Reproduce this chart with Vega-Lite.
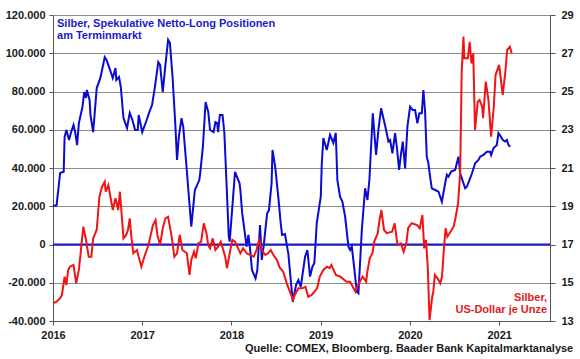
{
  "$schema": "https://vega.github.io/schema/vega-lite/v6.json",
  "width": 497,
  "height": 306,
  "autosize": {"type": "none"},
  "padding": {"left": 53, "top": 15, "right": 30, "bottom": 38},
  "background": "white",
  "config": {
    "locale": {"number": {"decimal": ",", "thousands": ".", "grouping": [3], "currency": ["", " €"], "minus": "-"}},
    "view": {"stroke": null},
    "font": "Liberation Sans",
    "axis": {"labelFont": "Liberation Sans", "labelFontSize": 11, "labelFontWeight": "bold", "labelColor": "#1a1a1a", "domainColor": "#555555", "tickColor": "#555555", "title": null, "labelOverlap": false, "labelFlush": false, "labelBound": false}
  },
  "title": {"text": "Quelle: COMEX, Bloomberg. Baader Bank Kapitalmarktanalyse", "orient": "bottom", "anchor": "end", "frame": "bounds", "font": "Liberation Sans", "fontSize": 11, "fontWeight": "bold", "color": "#1a1a1a", "offset": 3},
  "datasets": {
    "pos": [
      {"t": 2016.00, "v": 20300}, {"t": 2016.04, "v": 20500}, {"t": 2016.08, "v": 37400}, {"t": 2016.12, "v": 38000},
      {"t": 2016.13, "v": 56200}, {"t": 2016.15, "v": 59900}, {"t": 2016.18, "v": 54600}, {"t": 2016.20, "v": 58300},
      {"t": 2016.23, "v": 62500}, {"t": 2016.25, "v": 58300}, {"t": 2016.27, "v": 52000}, {"t": 2016.29, "v": 63500},
      {"t": 2016.33, "v": 71900}, {"t": 2016.35, "v": 79700}, {"t": 2016.37, "v": 76600}, {"t": 2016.38, "v": 80800},
      {"t": 2016.41, "v": 75600}, {"t": 2016.42, "v": 67700}, {"t": 2016.45, "v": 58800}, {"t": 2016.49, "v": 81800},
      {"t": 2016.53, "v": 87000}, {"t": 2016.55, "v": 91200}, {"t": 2016.58, "v": 98000}, {"t": 2016.60, "v": 96500},
      {"t": 2016.64, "v": 91200}, {"t": 2016.67, "v": 87000}, {"t": 2016.70, "v": 92300}, {"t": 2016.71, "v": 86000},
      {"t": 2016.74, "v": 87600}, {"t": 2016.76, "v": 82300}, {"t": 2016.79, "v": 66100}, {"t": 2016.83, "v": 60900},
      {"t": 2016.86, "v": 68800}, {"t": 2016.89, "v": 65100}, {"t": 2016.92, "v": 59900}, {"t": 2016.95, "v": 59900},
      {"t": 2016.96, "v": 67700}, {"t": 2017.00, "v": 58800}, {"t": 2017.05, "v": 65100}, {"t": 2017.08, "v": 69300},
      {"t": 2017.11, "v": 72900}, {"t": 2017.14, "v": 81800}, {"t": 2017.15, "v": 85000}, {"t": 2017.18, "v": 95400},
      {"t": 2017.20, "v": 93900}, {"t": 2017.23, "v": 79700}, {"t": 2017.26, "v": 93900}, {"t": 2017.29, "v": 107000},
      {"t": 2017.31, "v": 105400}, {"t": 2017.34, "v": 87600}, {"t": 2017.37, "v": 63500}, {"t": 2017.39, "v": 44200},
      {"t": 2017.41, "v": 56200}, {"t": 2017.44, "v": 66100}, {"t": 2017.46, "v": 61400}, {"t": 2017.49, "v": 44200},
      {"t": 2017.55, "v": 9300}, {"t": 2017.59, "v": 28500}, {"t": 2017.64, "v": 33700}, {"t": 2017.65, "v": 37400},
      {"t": 2017.68, "v": 51000}, {"t": 2017.71, "v": 74500}, {"t": 2017.74, "v": 69300}, {"t": 2017.76, "v": 59900},
      {"t": 2017.80, "v": 58800}, {"t": 2017.82, "v": 64000}, {"t": 2017.84, "v": 63500}, {"t": 2017.85, "v": 58800},
      {"t": 2017.87, "v": 67700}, {"t": 2017.90, "v": 67700}, {"t": 2017.92, "v": 58800}, {"t": 2017.94, "v": 37400},
      {"t": 2017.97, "v": 4100}, {"t": 2017.98, "v": 1500}, {"t": 2018.04, "v": 38000}, {"t": 2018.09, "v": 32100},
      {"t": 2018.10, "v": 28500}, {"t": 2018.12, "v": 16500}, {"t": 2018.15, "v": 6000}, {"t": 2018.17, "v": -1100},
      {"t": 2018.19, "v": 5000}, {"t": 2018.21, "v": -2900}, {"t": 2018.23, "v": -13300}, {"t": 2018.27, "v": -17700},
      {"t": 2018.29, "v": -13300}, {"t": 2018.32, "v": 10200}, {"t": 2018.34, "v": -8100}, {"t": 2018.36, "v": -1100},
      {"t": 2018.40, "v": 16300}, {"t": 2018.42, "v": 18000}, {"t": 2018.45, "v": 32100}, {"t": 2018.46, "v": 49400},
      {"t": 2018.49, "v": 40700}, {"t": 2018.53, "v": 22400}, {"t": 2018.55, "v": 12000}, {"t": 2018.567, "v": 5000},
      {"t": 2018.60, "v": 5500}, {"t": 2018.638, "v": -5000}, {"t": 2018.687, "v": -29900}, {"t": 2018.724, "v": -21200},
      {"t": 2018.750, "v": -18600}, {"t": 2018.777, "v": -22100}, {"t": 2018.825, "v": -6400}, {"t": 2018.851, "v": -2900},
      {"t": 2018.881, "v": -16800}, {"t": 2018.907, "v": -11600}, {"t": 2018.929, "v": -9800}, {"t": 2018.956, "v": 11200},
      {"t": 2019.001, "v": 25000}, {"t": 2019.012, "v": 42000}, {"t": 2019.030, "v": 55700}, {"t": 2019.068, "v": 49400},
      {"t": 2019.105, "v": 57300}, {"t": 2019.142, "v": 53100}, {"t": 2019.169, "v": 58300}, {"t": 2019.187, "v": 33700},
      {"t": 2019.217, "v": 25000}, {"t": 2019.243, "v": 22400}, {"t": 2019.274, "v": 14500}, {"t": 2019.311, "v": -1100},
      {"t": 2019.330, "v": -2900}, {"t": 2019.349, "v": -1100}, {"t": 2019.374, "v": -11600}, {"t": 2019.405, "v": -24700},
      {"t": 2019.423, "v": -25500}, {"t": 2019.461, "v": 7600}, {"t": 2019.498, "v": 29400}, {"t": 2019.524, "v": 23300},
      {"t": 2019.546, "v": 33700}, {"t": 2019.584, "v": 68600}, {"t": 2019.621, "v": 46800}, {"t": 2019.647, "v": 59900},
      {"t": 2019.677, "v": 71200}, {"t": 2019.703, "v": 66000}, {"t": 2019.733, "v": 59900}, {"t": 2019.759, "v": 53800},
      {"t": 2019.778, "v": 54600}, {"t": 2019.804, "v": 47700}, {"t": 2019.834, "v": 58200}, {"t": 2019.853, "v": 51100},
      {"t": 2019.879, "v": 39000}, {"t": 2019.901, "v": 47700}, {"t": 2019.920, "v": 53800}, {"t": 2019.946, "v": 39800},
      {"t": 2019.972, "v": 61600}, {"t": 2020.002, "v": 72100}, {"t": 2020.033, "v": 70300}, {"t": 2020.058, "v": 70300},
      {"t": 2020.084, "v": 63400}, {"t": 2020.106, "v": 68600}, {"t": 2020.133, "v": 68600}, {"t": 2020.151, "v": 80800},
      {"t": 2020.170, "v": 69400}, {"t": 2020.189, "v": 45900}, {"t": 2020.207, "v": 42500}, {"t": 2020.226, "v": 35500},
      {"t": 2020.245, "v": 29400}, {"t": 2020.283, "v": 28500}, {"t": 2020.320, "v": 27600}, {"t": 2020.358, "v": 22400},
      {"t": 2020.375, "v": 26800}, {"t": 2020.395, "v": 32000}, {"t": 2020.414, "v": 36500}, {"t": 2020.432, "v": 35500},
      {"t": 2020.462, "v": 38100}, {"t": 2020.507, "v": 39000}, {"t": 2020.544, "v": 45900}, {"t": 2020.563, "v": 37200},
      {"t": 2020.582, "v": 34600}, {"t": 2020.619, "v": 29400}, {"t": 2020.638, "v": 30200}, {"t": 2020.667, "v": 33700},
      {"t": 2020.694, "v": 37000}, {"t": 2020.731, "v": 42500}, {"t": 2020.768, "v": 44200}, {"t": 2020.787, "v": 45900},
      {"t": 2020.824, "v": 46800}, {"t": 2020.862, "v": 48500}, {"t": 2020.899, "v": 48500}, {"t": 2020.910, "v": 46800},
      {"t": 2020.936, "v": 50300}, {"t": 2020.974, "v": 52000}, {"t": 2020.992, "v": 58200}, {"t": 2021.019, "v": 56400},
      {"t": 2021.042, "v": 54600}, {"t": 2021.067, "v": 53800}, {"t": 2021.087, "v": 54600}, {"t": 2021.105, "v": 52000},
      {"t": 2021.123, "v": 51100}
    ],
    "price": [
      {"t": 2016.00, "p": 13.93}, {"t": 2016.04, "p": 14.01}, {"t": 2016.08, "p": 14.19}, {"t": 2016.10, "p": 14.36},
      {"t": 2016.13, "p": 15.32}, {"t": 2016.15, "p": 14.88}, {"t": 2016.17, "p": 15.67}, {"t": 2016.19, "p": 15.84},
      {"t": 2016.23, "p": 15.93}, {"t": 2016.26, "p": 14.97}, {"t": 2016.29, "p": 15.67}, {"t": 2016.34, "p": 17.93},
      {"t": 2016.37, "p": 17.24}, {"t": 2016.40, "p": 16.36}, {"t": 2016.43, "p": 16.36}, {"t": 2016.45, "p": 17.32},
      {"t": 2016.49, "p": 17.76}, {"t": 2016.52, "p": 19.5}, {"t": 2016.55, "p": 20.02}, {"t": 2016.58, "p": 20.28},
      {"t": 2016.59, "p": 19.76}, {"t": 2016.62, "p": 20.11}, {"t": 2016.64, "p": 19.59}, {"t": 2016.67, "p": 18.8},
      {"t": 2016.70, "p": 19.42}, {"t": 2016.71, "p": 19.24}, {"t": 2016.73, "p": 18.8}, {"t": 2016.75, "p": 19.76},
      {"t": 2016.79, "p": 17.32}, {"t": 2016.82, "p": 17.5}, {"t": 2016.84, "p": 17.76}, {"t": 2016.86, "p": 18.37},
      {"t": 2016.88, "p": 17.32}, {"t": 2016.90, "p": 16.54}, {"t": 2016.94, "p": 16.71}, {"t": 2016.99, "p": 15.84},
      {"t": 2017.03, "p": 16.45}, {"t": 2017.07, "p": 16.97}, {"t": 2017.12, "p": 18.02}, {"t": 2017.15, "p": 18.28},
      {"t": 2017.17, "p": 17.5}, {"t": 2017.20, "p": 16.97}, {"t": 2017.23, "p": 17.85}, {"t": 2017.26, "p": 18.37},
      {"t": 2017.29, "p": 18.45}, {"t": 2017.33, "p": 17.41}, {"t": 2017.36, "p": 16.36}, {"t": 2017.39, "p": 16.54},
      {"t": 2017.42, "p": 17.5}, {"t": 2017.45, "p": 16.71}, {"t": 2017.50, "p": 16.54}, {"t": 2017.53, "p": 15.41},
      {"t": 2017.55, "p": 16.19}, {"t": 2017.58, "p": 16.62}, {"t": 2017.60, "p": 16.28}, {"t": 2017.63, "p": 17.06},
      {"t": 2017.66, "p": 17.15}, {"t": 2017.69, "p": 18.11}, {"t": 2017.72, "p": 17.59}, {"t": 2017.74, "p": 16.97},
      {"t": 2017.76, "p": 16.8}, {"t": 2017.79, "p": 17.32}, {"t": 2017.82, "p": 16.71}, {"t": 2017.85, "p": 16.89},
      {"t": 2017.88, "p": 17.15}, {"t": 2017.93, "p": 16.36}, {"t": 2017.95, "p": 15.76}, {"t": 2017.98, "p": 16.54},
      {"t": 2018.01, "p": 17.24}, {"t": 2018.04, "p": 17.15}, {"t": 2018.10, "p": 16.54}, {"t": 2018.13, "p": 16.8},
      {"t": 2018.17, "p": 16.54}, {"t": 2018.25, "p": 16.36}, {"t": 2018.28, "p": 16.71}, {"t": 2018.31, "p": 17.24},
      {"t": 2018.34, "p": 16.71}, {"t": 2018.38, "p": 16.45}, {"t": 2018.41, "p": 16.54}, {"t": 2018.44, "p": 16.71},
      {"t": 2018.47, "p": 16.45}, {"t": 2018.51, "p": 16.19}, {"t": 2018.54, "p": 15.8}, {"t": 2018.58, "p": 15.58},
      {"t": 2018.62, "p": 14.97}, {"t": 2018.69, "p": 14.1}, {"t": 2018.71, "p": 14.36}, {"t": 2018.75, "p": 14.71},
      {"t": 2018.79, "p": 14.71}, {"t": 2018.83, "p": 14.79}, {"t": 2018.86, "p": 14.27}, {"t": 2018.90, "p": 14.36},
      {"t": 2018.96, "p": 14.71}, {"t": 2018.99, "p": 15.32}, {"t": 2019.03, "p": 15.67}, {"t": 2019.07, "p": 15.84},
      {"t": 2019.10, "p": 15.76}, {"t": 2019.12, "p": 15.93}, {"t": 2019.17, "p": 15.41}, {"t": 2019.22, "p": 15.32},
      {"t": 2019.29, "p": 15.05}, {"t": 2019.33, "p": 15.05}, {"t": 2019.39, "p": 14.53}, {"t": 2019.41, "p": 14.79},
      {"t": 2019.47, "p": 15.32}, {"t": 2019.51, "p": 15.05}, {"t": 2019.52, "p": 15.49}, {"t": 2019.55, "p": 16.28},
      {"t": 2019.58, "p": 16.54}, {"t": 2019.60, "p": 17.15}, {"t": 2019.64, "p": 17.59}, {"t": 2019.66, "p": 18.28},
      {"t": 2019.68, "p": 18.8}, {"t": 2019.71, "p": 17.76}, {"t": 2019.74, "p": 17.59}, {"t": 2019.80, "p": 17.67},
      {"t": 2019.83, "p": 18.11}, {"t": 2019.86, "p": 16.97}, {"t": 2019.90, "p": 17.06}, {"t": 2019.93, "p": 16.62},
      {"t": 2019.96, "p": 17.06}, {"t": 2019.98, "p": 17.85}, {"t": 2020.02, "p": 18.11}, {"t": 2020.08, "p": 18.02},
      {"t": 2020.11, "p": 17.85}, {"t": 2020.14, "p": 18.54}, {"t": 2020.16, "p": 16.8}, {"t": 2020.18, "p": 17.24},
      {"t": 2020.20, "p": 15.84}, {"t": 2020.22, "p": 13.05}, {"t": 2020.25, "p": 14.27}, {"t": 2020.26, "p": 14.45},
      {"t": 2020.28, "p": 15.41}, {"t": 2020.31, "p": 15.23}, {"t": 2020.34, "p": 14.97}, {"t": 2020.36, "p": 15.32},
      {"t": 2020.38, "p": 16.71}, {"t": 2020.40, "p": 17.85}, {"t": 2020.42, "p": 17.41}, {"t": 2020.49, "p": 17.93},
      {"t": 2020.51, "p": 18.37}, {"t": 2020.54, "p": 19.15}, {"t": 2020.55, "p": 19.85}, {"t": 2020.563, "p": 20.72},
      {"t": 2020.574, "p": 24.03}, {"t": 2020.58, "p": 25.95}, {"t": 2020.60, "p": 27.87}, {"t": 2020.61, "p": 26.74},
      {"t": 2020.65, "p": 26.74}, {"t": 2020.67, "p": 27.6}, {"t": 2020.69, "p": 26.47}, {"t": 2020.71, "p": 26.99},
      {"t": 2020.73, "p": 22.99}, {"t": 2020.76, "p": 24.47}, {"t": 2020.78, "p": 24.56}, {"t": 2020.81, "p": 24.2},
      {"t": 2020.82, "p": 23.6}, {"t": 2020.85, "p": 25.51}, {"t": 2020.88, "p": 24.56}, {"t": 2020.91, "p": 22.64},
      {"t": 2020.94, "p": 24.2}, {"t": 2020.96, "p": 25.86}, {"t": 2021.00, "p": 26.39}, {"t": 2021.04, "p": 24.82},
      {"t": 2021.07, "p": 26.04}, {"t": 2021.09, "p": 27.17}, {"t": 2021.12, "p": 27.34}, {"t": 2021.14, "p": 27.0}
    ],
    "bluelabel": [
      {"t": 2016.045, "v": 115300, "text": "Silber, Spekulative Netto-Long Positionen"},
      {"t": 2016.045, "v": 109000, "text": "am Terminmarkt"}
    ],
    "redlabel": [
      {"t": 2021.538, "p": 14.22, "text": "Silber,"},
      {"t": 2021.538, "p": 13.58, "text": "US-Dollar je Unze"}
    ]
  },
  "encoding": {
    "x": {
      "field": "t", "type": "quantitative",
      "scale": {"domain": [2016, 2021.57], "nice": false, "zero": false},
      "axis": {"values": [2016, 2017, 2018, 2019, 2020, 2021], "tickCount": 20, "format": "d", "grid": false, "tickSize": 4, "labelPadding": 4, "domainColor": "#555555"}
    }
  },
  "layer": [
    {
      "layer": [
        {
          "data": {"name": "pos"},
          "mark": {"type": "line", "color": "#0a0ad2", "strokeWidth": 2},
          "encoding": {
            "y": {
              "field": "v", "type": "quantitative",
              "scale": {"domain": [-40000, 120000], "nice": false},
              "axis": {"orient": "left", "values": [-40000, -20000, 0, 20000, 40000, 60000, 80000, 100000, 120000], "tickCount": 20, "format": ",d", "grid": true, "gridColor": "#8c8c8c", "gridWidth": 1, "tickSize": 4, "labelPadding": 4}
            }
          }
        },
        {
          "data": {"values": [{"z": 0}]},
          "mark": {"type": "rule", "color": "#1a1ad6", "strokeWidth": 2},
          "encoding": {"x": null, "y": {"field": "z", "type": "quantitative"}}
        },
        {
          "data": {"name": "bluelabel"},
          "mark": {"type": "text", "align": "left", "baseline": "middle", "font": "Liberation Sans", "fontSize": 11, "fontWeight": "bold", "color": "#1a1acc"},
          "encoding": {"y": {"field": "v", "type": "quantitative"}, "text": {"field": "text"}}
        }
      ]
    },
    {
      "layer": [
        {
          "data": {"name": "price"},
          "mark": {"type": "line", "color": "#f01414", "strokeWidth": 2},
          "encoding": {
            "y": {
              "field": "p", "type": "quantitative",
              "scale": {"domain": [13, 29], "nice": false, "zero": false},
              "axis": {"orient": "right", "values": [13, 15, 17, 19, 21, 23, 25, 27, 29], "tickCount": 20, "format": "d", "grid": false, "tickSize": 5, "labelPadding": 6}
            }
          }
        },
        {
          "data": {"name": "redlabel"},
          "mark": {"type": "text", "align": "right", "baseline": "middle", "font": "Liberation Sans", "fontSize": 11, "fontWeight": "bold", "color": "#e0201f"},
          "encoding": {"y": {"field": "p", "type": "quantitative"}, "text": {"field": "text"}}
        }
      ]
    }
  ],
  "resolve": {"scale": {"y": "independent"}}
}
